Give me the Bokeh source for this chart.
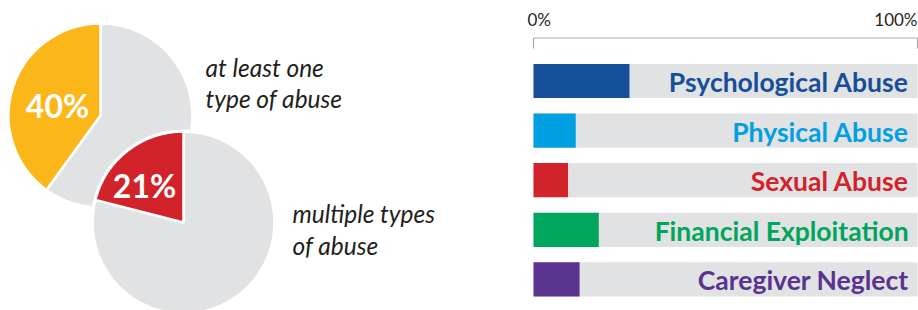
import math
from bokeh.plotting import figure
from bokeh.layouts import row
from bokeh.models import Range1d
from bokeh.core.properties import value
from bokeh.embed import file_html
from bokeh.resources import INLINE

# ---------------- data ----------------
pie_values = [40, 21]
pie_labels = ["40%", "21%"]
pie_colors = ["#fbb71a", "#d2232a"]
pie_captions_1 = ["at least one", "type of abuse"]
pie_captions_2 = ["multiple types", "of abuse"]

categories = ["Psychological Abuse", "Physical Abuse", "Sexual Abuse",
              "Financial Exploitation", "Caregiver Neglect"]
values = [25, 11, 9, 17, 12]
bar_colors = ["#164f99", "#00a0e2", "#d2232a", "#00a65b", "#5a3391"]
axis_ticks = [0, 100]
axis_tick_labels = ["0%", "100%"]

GRAY = "#e1e2e4"
TEXT = "#231f20"
FONT = value("Lato")

# ---------------- pies ----------------
W1, H = 508, 310
p1 = figure(width=W1, height=H, x_range=Range1d(0, W1), y_range=Range1d(0, H),
            output_backend="svg", toolbar_location=None, min_border=0,
            x_axis_location=None, y_axis_location=None)
p1.grid.visible = False
p1.outline_line_color = None

centers = [(100, 195), (183, 88)]
radii = [92, 91]
for i, v in enumerate(pie_values):
    cx, cy = centers[i]
    r = radii[i]
    start = math.pi / 2
    end = start + 2 * math.pi * v / 100
    if i > 0:
        p1.circle(x=[cx], y=[cy], radius=r + 2, fill_color="white", line_color=None)
    p1.wedge(x=[cx], y=[cy], radius=r, start_angle=end, end_angle=start + 2 * math.pi,
             fill_color=GRAY, line_color="white", line_width=2.5)
    p1.wedge(x=[cx], y=[cy], radius=r, start_angle=start, end_angle=end,
             fill_color=pie_colors[i], line_color="white", line_width=2.5)

p1.text(x=[57, 144], y=[205, 125], text=pie_labels, text_font=FONT,
        text_font_style="bold", text_font_size="32px", text_color="white",
        text_align="center", text_baseline="middle")

p1.text(x=[205, 205], y=[243, 212], text=pie_captions_1, text_font=FONT,
        text_font_style="italic", text_font_size="24.5px", text_color=TEXT,
        text_align="left", text_baseline="alphabetic")
p1.text(x=[292, 292], y=[97, 65], text=pie_captions_2, text_font=FONT,
        text_font_style="italic", text_font_size="24.5px", text_color=TEXT,
        text_align="left", text_baseline="alphabetic")

# ---------------- bars ----------------
W2 = 410
scale = 3.84      # px per percent
x0 = 25           # px of 0%
row_px = 49.6
first_px = 80.5
p2 = figure(width=W2, height=H,
            x_range=Range1d(-x0 / scale, (W2 - x0) / scale),
            y_range=Range1d((H - first_px) / row_px, -first_px / row_px),
            output_backend="svg", toolbar_location=None, min_border=0,
            x_axis_location=None, y_axis_location=None)
p2.grid.visible = False
p2.outline_line_color = None

idx = list(range(len(categories)))
p2.hbar(y=idx, left=0, right=[100] * len(idx), height=0.69, fill_color=GRAY, line_color=None)
p2.hbar(y=idx, left=0, right=values, height=0.69, fill_color=bar_colors, line_color=None)
p2.text(x=[97.7] * len(idx), y=[i + 0.02 for i in idx], text=categories, text_font=FONT,
        text_font_style="bold", text_font_size="26.5px", text_color=bar_colors,
        text_align="right", text_baseline="middle")

# axis bracket
yA = (37.5 - first_px) / row_px
yT = (48 - first_px) / row_px
yL = (19 - first_px) / row_px
p2.segment(x0=[axis_ticks[0]], y0=[yA], x1=[axis_ticks[1]], y1=[yA],
           line_color="#a7a9ac", line_width=1.2)
p2.segment(x0=axis_ticks, y0=[yA, yA], x1=axis_ticks, y1=[yT, yT],
           line_color="#a7a9ac", line_width=1.2)
p2.text(x=[axis_ticks[0]], y=[yL], text=[axis_tick_labels[0]], x_offset=-6,
        text_font=FONT, text_font_size="17px", text_color=TEXT,
        text_align="left", text_baseline="middle")
p2.text(x=[axis_ticks[1]], y=[yL], text=[axis_tick_labels[1]],
        text_font=FONT, text_font_size="17px", text_color=TEXT,
        text_align="right", text_baseline="middle")

layout = row(p1, p2, spacing=0)
open("out.html", "w").write(file_html(layout, INLINE))
